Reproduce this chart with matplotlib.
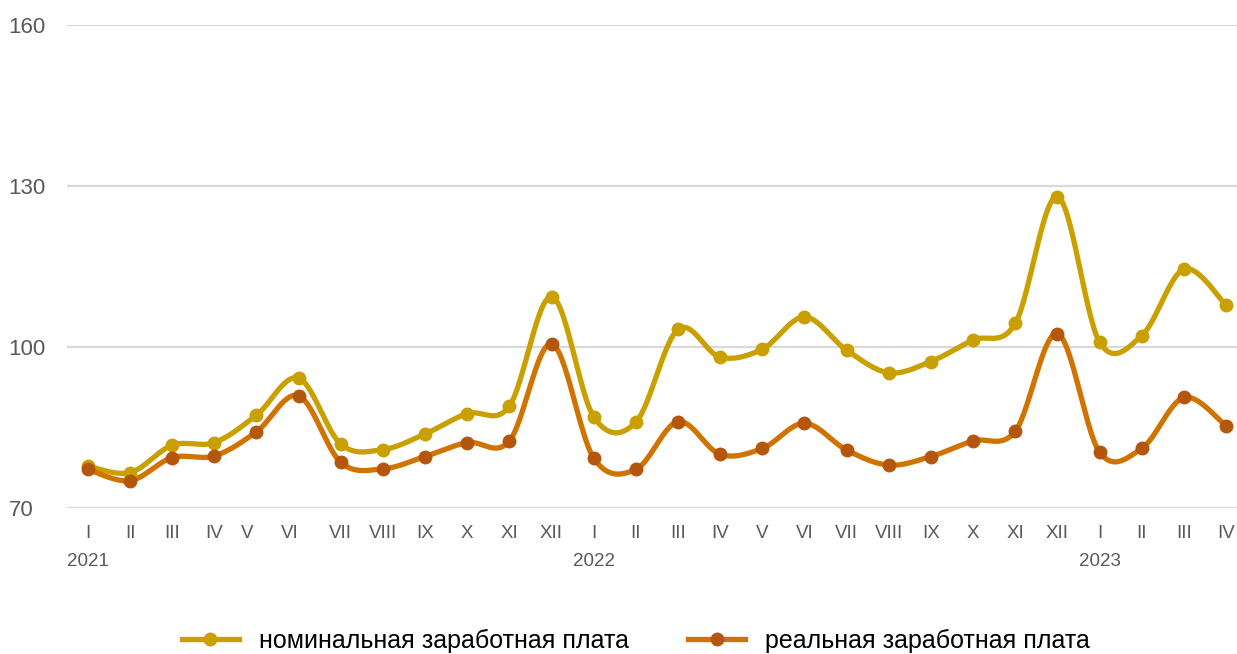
import numpy as np
import matplotlib
matplotlib.use("Agg")
import matplotlib.pyplot as plt
from matplotlib.transforms import ScaledTranslation
from matplotlib.lines import Line2D

months = ["I", "II", "III", "IV", "V", "VI", "VII", "VIII", "IX", "X", "XI", "XII",
          "I", "II", "III", "IV", "V", "VI", "VII", "VIII", "IX", "X", "XI", "XII",
          "I", "II", "III", "IV"]
years = {0: "2021", 12: "2022", 24: "2023"}

nominal = [77.8, 76.6, 81.7, 82.2, 87.3, 94.2, 81.9, 80.9, 83.8, 87.6, 89.0, 109.4,
           87.0, 86.0, 103.3, 98.1, 99.6, 105.6, 99.4, 95.2, 97.3, 101.3, 104.4, 128.0,
           100.9, 102.1, 114.5, 107.8]
real = [77.2, 75.1, 79.4, 79.7, 84.2, 90.9, 78.5, 77.3, 79.6, 82.2, 82.5, 100.6,
        79.3, 77.2, 86.1, 80.0, 81.1, 85.8, 80.8, 78.0, 79.6, 82.5, 84.3, 102.5,
        80.4, 81.1, 90.6, 85.3]

GOLD = "#C9A000"
ORANGE = "#D07300"
ORANGE_MK = "#B5560F"
GREY = "#595959"
FONT = ["Liberation Sans", "DejaVu Sans"]


def smooth(x, y, n=30):
    # catmull-rom style smoothing like Excel's smoothed lines
    x = np.asarray(x, float)
    y = np.asarray(y, float)
    px = np.concatenate([[x[0]], x, [x[-1]]])
    py = np.concatenate([[y[0]], y, [y[-1]]])
    xs, ys = [], []
    t = np.linspace(0, 1, n)
    for i in range(1, len(px) - 2):
        p0, p1, p2, p3 = (np.array([px[j], py[j]]) for j in range(i - 1, i + 3))
        c1 = p1 + (p2 - p0) / 6
        c2 = p2 - (p3 - p1) / 6
        b = ((1 - t) ** 3)[:, None] * p1 + (3 * (1 - t) ** 2 * t)[:, None] * c1 \
            + (3 * (1 - t) * t ** 2)[:, None] * c2 + (t ** 3)[:, None] * p2
        xs.extend(b[:, 0])
        ys.extend(b[:, 1])
    return xs, ys


fig = plt.figure(figsize=(12.37, 6.54), dpi=100)
ax = fig.add_axes([0.054, 0.2232, 0.946, 0.7386])

x = np.arange(len(months))
for vals, lc, mc in [(nominal, GOLD, GOLD), (real, ORANGE, ORANGE_MK)]:
    sx, sy = smooth(x, vals)
    ax.plot(sx, sy, color=lc, lw=3.8, solid_capstyle="round", zorder=3)
    ax.plot(x, vals, "o", color=mc, ms=9, zorder=4)

ax.set_xlim(-0.5, 27.26)
ax.set_ylim(70, 160)
ax.set_yticks([70, 100, 130, 160])
ax.grid(axis="y", color="#D9D9D9", lw=1.6)
ax.set_axisbelow(True)
for s in ax.spines.values():
    s.set_visible(False)

ax.tick_params(axis="y", length=0, pad=42, labelsize=16, labelcolor=GREY)
for lab in ax.get_yticklabels():
    lab.set_ha("left")
    lab.set_fontfamily(FONT)

ax.set_xticks(x)
ax.set_xticklabels(months)
ax.tick_params(axis="x", length=0, pad=12, labelsize=13.5, labelcolor=GREY)
for i, lab in enumerate(ax.get_xticklabels()):
    lab.set_fontfamily(FONT)
    if i in (4, 5):
        lab.set_transform(lab.get_transform() + ScaledTranslation(-9 / 100, 0, fig.dpi_scale_trans))

for i, yr in years.items():
    ax.text(i, -0.11, yr, transform=ax.get_xaxis_transform(), ha="center", va="center",
            fontsize=13.5, color=GREY, family=FONT)

handles = [Line2D([], [], color=GOLD, lw=3.8, marker="o", ms=9),
           Line2D([], [], color=ORANGE, lw=3.8, marker="o", ms=9, mfc=ORANGE_MK, mec=ORANGE_MK)]
fig.legend(handles, ["номинальная заработная плата", "реальная заработная плата"],
           loc="center", bbox_to_anchor=(0.514, 0.02), ncol=2, frameon=False,
           prop={"family": FONT, "size": 18}, handlelength=2.3, columnspacing=2.35,
           handletextpad=0.8, labelcolor="black")

fig.savefig("out.png", dpi=100)
